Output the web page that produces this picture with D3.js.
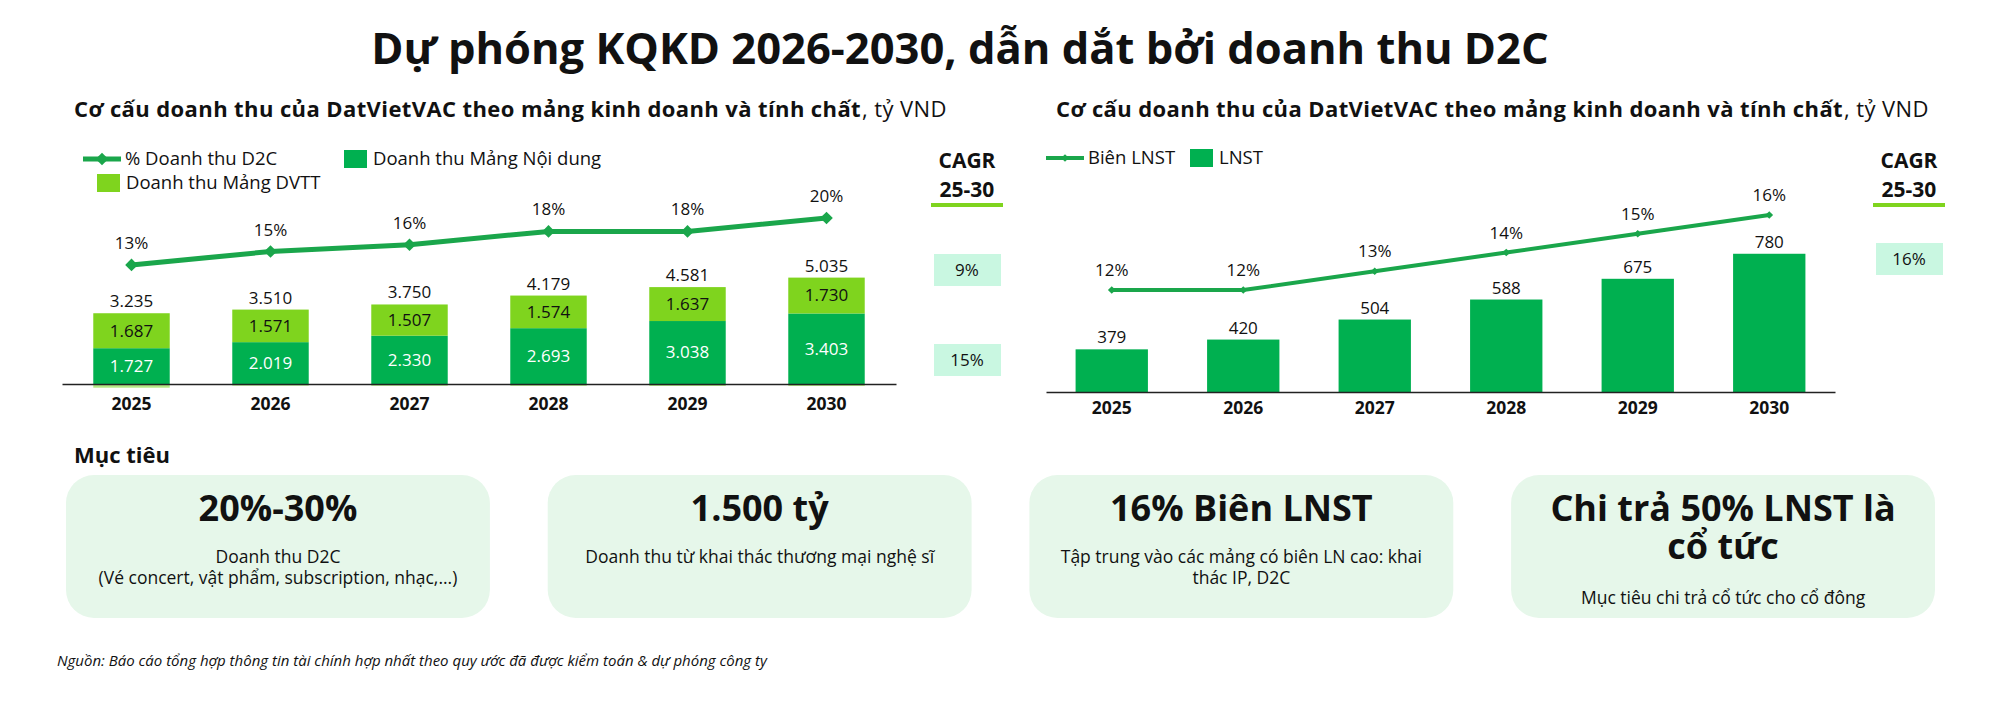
<!DOCTYPE html>
<html>
<head>
<meta charset="utf-8">
<script src="https://cdn.jsdelivr.net/npm/d3@7"></script>
<style>
  body { margin: 0; background: #fff; }
  svg { display: block; }
  text { font-family: 'Open Sans', sans-serif; fill: #111; }
</style>
</head>
<body>
<svg id="chart" width="2000" height="719"></svg>
<script>
// ---- data ----
const years = ['2025', '2026', '2027', '2028', '2029', '2030'];
const d2cShare = [13, 15, 16, 18, 18, 20];                    // % Doanh thu D2C
const contentRevenue = [1727, 2019, 2330, 2693, 3038, 3403];  // Doanh thu Mảng Nội dung
const serviceRevenue = [1687, 1571, 1507, 1574, 1637, 1730];  // Doanh thu Mảng DVTT
const totalRevenue = [3235, 3510, 3750, 4179, 4581, 5035];    // labels above bars
const revenueCagr = ['9%', '15%'];

const netMargin = [12, 12, 13, 14, 15, 16];                   // Biên LNST
const netProfit = [379, 420, 504, 588, 675, 780];             // LNST
const profitCagr = ['16%'];

const targetTitles = [['20%-30%'], ['1.500 tỷ'], ['16% Biên LNST'], ['Chi trả 50% LNST là', 'cổ tức']];
const targetNotes = [
  ['Doanh thu D2C', '(Vé concert, vật phẩm, subscription, nhạc,...)'],
  ['Doanh thu từ khai thác thương mại nghệ sĩ'],
  ['Tập trung vào các mảng có biên LN cao: khai', 'thác IP, D2C'],
  ['Mục tiêu chi trả cổ tức cho cổ đông'],
];

const DARK = '#00b050';
const LIGHT = '#7fd41e';
const LINE = '#1aa64b';
const MINT = '#c9f7e1';
const CARD = '#e6f7ea';

const fmt = (v) => d3.format(',')(v).replace(/,/g, '.');
const svg = d3.select('#chart');

// ---- headings ----
svg.append('text')
  .attr('x', 960).attr('y', 64)
  .attr('text-anchor', 'middle')
  .style('font-size', '43.5px').style('font-weight', 700)
  .text('Dự phóng KQKD 2026-2030, dẫn dắt bởi doanh thu D2C');

function subtitle(x) {
  const bold = svg.append('text').attr('x', x).attr('y', 117)
    .style('font-size', '22px').style('font-weight', 700).style('letter-spacing', '0.4px')
    .text('Cơ cấu doanh thu của DatVietVAC theo mảng kinh doanh và tính chất');
  const w = bold.node().getComputedTextLength();
  svg.append('text').attr('x', x + w + 1).attr('y', 117)
    .style('font-size', '22px').style('letter-spacing', '0.4px')
    .text(', tỷ VND');
}
subtitle(74);
subtitle(1056);

// ---- helpers ----
function lineLegend(x, y, label, diamond, width) {
  const g = svg.append('g').attr('transform', `translate(${x},${y})`);
  g.append('line').attr('x1', 0).attr('x2', 38).attr('stroke', LINE).attr('stroke-width', width);
  g.append('path').attr('transform', 'translate(19,0) rotate(45)')
    .attr('d', d3.symbol(d3.symbolSquare, diamond)()).attr('fill', LINE);
  g.append('text').attr('x', 42).attr('dy', '0.35em').style('font-size', '18.5px').text(label);
}

function boxLegend(x, y, label, color) {
  const g = svg.append('g').attr('transform', `translate(${x},${y})`);
  g.append('rect').attr('y', -9).attr('width', 23).attr('height', 18).attr('fill', color);
  g.append('text').attr('x', 29).attr('dy', '0.35em').style('font-size', '18.5px').text(label);
}

function cagrColumn(cx, values, boxTops) {
  svg.append('text').attr('x', cx).attr('y', 168).attr('text-anchor', 'middle')
    .style('font-size', '21px').style('font-weight', 700).text('CAGR');
  svg.append('text').attr('x', cx).attr('y', 197).attr('text-anchor', 'middle')
    .style('font-size', '21px').style('font-weight', 700).text('25-30');
  svg.append('rect').attr('x', cx - 36).attr('y', 203).attr('width', 72).attr('height', 4).attr('fill', LIGHT);
  values.forEach((v, i) => {
    svg.append('rect').attr('x', cx - 33).attr('y', boxTops[i]).attr('width', 67).attr('height', 32).attr('fill', MINT);
    svg.append('text').attr('x', cx).attr('y', boxTops[i] + 16).attr('dy', '0.35em')
      .attr('text-anchor', 'middle').style('font-size', '17px').text(v);
  });
}

function yearAxis(x, yBase, pad) {
  const ax = svg.append('g')
    .attr('transform', `translate(0,${yBase})`)
    .call(d3.axisBottom(x).tickSize(0).tickSizeOuter(0).tickPadding(pad));
  ax.select('.domain').attr('stroke', '#222').attr('stroke-width', 1.5);
  ax.selectAll('text').style('font-family', "'Open Sans', sans-serif")
    .style('font-size', '17.5px').style('font-weight', 700).attr('fill', '#111');
}

// ---- left chart: revenue structure ----
const revRows = years.map((y, i) => ({
  year: y,
  content: contentRevenue[i],
  service: serviceRevenue[i],
  total: totalRevenue[i],
  share: d2cShare[i],
}));

const x1 = d3.scaleBand().domain(years).range([62, 896]).paddingInner(0.45).paddingOuter(0.225);
const y1 = d3.scaleLinear().domain([0, 5500]).range([384, 270]);
const yShare = d3.scaleLinear().domain([0, 20]).range([352, 218]);

const stack = d3.stack().keys(['content', 'service'])(revRows);
const stackColors = { content: DARK, service: LIGHT };

// gap between the sum of segments and the reported total, drawn under the axis
svg.append('g').selectAll('rect')
  .data(revRows)
  .join('rect')
  .attr('x', (d) => x1(d.year))
  .attr('width', x1.bandwidth())
  .attr('y', y1(0))
  .attr('height', (d) => y1(0) - y1(d.content + d.service - d.total))
  .attr('fill', '#b5e985');

stack.forEach((layer) => {
  const g = svg.append('g');
  g.selectAll('rect')
    .data(layer)
    .join('rect')
    .attr('x', (d) => x1(d.data.year))
    .attr('width', x1.bandwidth())
    .attr('y', (d) => y1(d[1]))
    .attr('height', (d) => y1(d[0]) - y1(d[1]))
    .attr('fill', stackColors[layer.key]);
  g.selectAll('text')
    .data(layer)
    .join('text')
    .attr('x', (d) => x1(d.data.year) + x1.bandwidth() / 2)
    .attr('y', (d) => (y1(d[0]) + y1(d[1])) / 2)
    .attr('dy', '0.35em')
    .attr('text-anchor', 'middle')
    .style('font-size', '17px')
    .style('fill', layer.key === 'content' ? '#fff' : '#111')
    .text((d) => fmt(d.data[layer.key]));
});

svg.append('g').selectAll('text')
  .data(revRows)
  .join('text')
  .attr('x', (d) => x1(d.year) + x1.bandwidth() / 2)
  .attr('y', (d) => y1(d.content + d.service) - 6)
  .attr('text-anchor', 'middle')
  .style('font-size', '17px')
  .text((d) => fmt(d.total));

yearAxis(x1, 384, 14);

const cx1 = (d) => x1(d.year) + x1.bandwidth() / 2;
svg.append('path')
  .datum(revRows)
  .attr('fill', 'none')
  .attr('stroke', LINE)
  .attr('stroke-width', 5)
  .attr('d', d3.line().x(cx1).y((d) => yShare(d.share)));
svg.append('g').selectAll('path')
  .data(revRows)
  .join('path')
  .attr('transform', (d) => `translate(${cx1(d)},${yShare(d.share)}) rotate(45)`)
  .attr('d', d3.symbol(d3.symbolSquare, 80)())
  .attr('fill', LINE);
svg.append('g').selectAll('text')
  .data(revRows)
  .join('text')
  .attr('x', cx1)
  .attr('y', (d) => yShare(d.share) - 16)
  .attr('text-anchor', 'middle')
  .style('font-size', '17px')
  .text((d) => `${d.share}%`);

lineLegend(83, 159, '% Doanh thu D2C', 80, 5);
boxLegend(344, 159, 'Doanh thu Mảng Nội dung', DARK);
boxLegend(97, 183, 'Doanh thu Mảng DVTT', LIGHT);
cagrColumn(967, revenueCagr, [254, 344]);

// ---- right chart: net profit ----
const profitRows = years.map((y, i) => ({ year: y, profit: netProfit[i], margin: netMargin[i] }));

const x2 = d3.scaleBand().domain(years).range([1046, 1835]).paddingInner(0.45).paddingOuter(0.225);
const y2 = d3.scaleLinear().domain([200, 800]).range([392, 249]);
const yMargin = d3.scaleLinear().domain([12, 16]).range([290, 215]);
const cx2 = (d) => x2(d.year) + x2.bandwidth() / 2;

svg.append('g').selectAll('rect')
  .data(profitRows)
  .join('rect')
  .attr('x', (d) => x2(d.year))
  .attr('width', x2.bandwidth())
  .attr('y', (d) => y2(d.profit))
  .attr('height', (d) => y2(200) - y2(d.profit))
  .attr('fill', DARK);
svg.append('g').selectAll('text')
  .data(profitRows)
  .join('text')
  .attr('x', cx2)
  .attr('y', (d) => y2(d.profit) - 6)
  .attr('text-anchor', 'middle')
  .style('font-size', '17px')
  .text((d) => d.profit);

yearAxis(x2, 392, 10);

svg.append('path')
  .datum(profitRows)
  .attr('fill', 'none')
  .attr('stroke', LINE)
  .attr('stroke-width', 4)
  .attr('d', d3.line().x(cx2).y((d) => yMargin(d.margin)));
svg.append('g').selectAll('path')
  .data(profitRows)
  .join('path')
  .attr('transform', (d) => `translate(${cx2(d)},${yMargin(d.margin)}) rotate(45)`)
  .attr('d', d3.symbol(d3.symbolSquare, 30)())
  .attr('fill', LINE);
svg.append('g').selectAll('text')
  .data(profitRows)
  .join('text')
  .attr('x', cx2)
  .attr('y', (d) => yMargin(d.margin) - 14)
  .attr('text-anchor', 'middle')
  .style('font-size', '17px')
  .text((d) => `${d.margin}%`);

lineLegend(1046, 158, 'Biên LNST', 30, 4);
boxLegend(1190, 158, 'LNST', DARK);
cagrColumn(1909, profitCagr, [243]);

// ---- targets ----
svg.append('text').attr('x', 74).attr('y', 463)
  .style('font-size', '22px').style('font-weight', 700).text('Mục tiêu');

const xc = d3.scaleBand().domain(d3.range(targetTitles.length)).range([66, 1935]).paddingInner(0.12);
const cards = svg.append('g').selectAll('g')
  .data(targetTitles.map((t, i) => ({ title: t, note: targetNotes[i], i })))
  .join('g')
  .attr('transform', (d) => `translate(${xc(d.i)},475)`);

cards.append('rect')
  .attr('width', xc.bandwidth())
  .attr('height', 143)
  .attr('rx', 28)
  .attr('fill', CARD);

cards.each(function (d) {
  const g = d3.select(this);
  const mid = xc.bandwidth() / 2;
  const title = g.append('text').attr('text-anchor', 'middle')
    .style('font-size', '36px').style('font-weight', 700);
  d.title.forEach((line, k) => {
    title.append('tspan').attr('x', mid).attr('y', 46 + k * 38).text(line);
  });
  const noteTop = d.title.length > 1 ? 129 : 88;
  const note = g.append('text').attr('text-anchor', 'middle').style('font-size', '17.5px');
  d.note.forEach((line, k) => {
    note.append('tspan').attr('x', mid).attr('y', noteTop + k * 21).text(line);
  });
});

svg.append('text').attr('x', 57).attr('y', 666)
  .style('font-size', '15px').style('font-style', 'italic')
  .text('Nguồn: Báo cáo tổng hợp thông tin tài chính hợp nhất theo quy ước đã được kiểm toán & dự phóng công ty');
</script>
</body>
</html>
